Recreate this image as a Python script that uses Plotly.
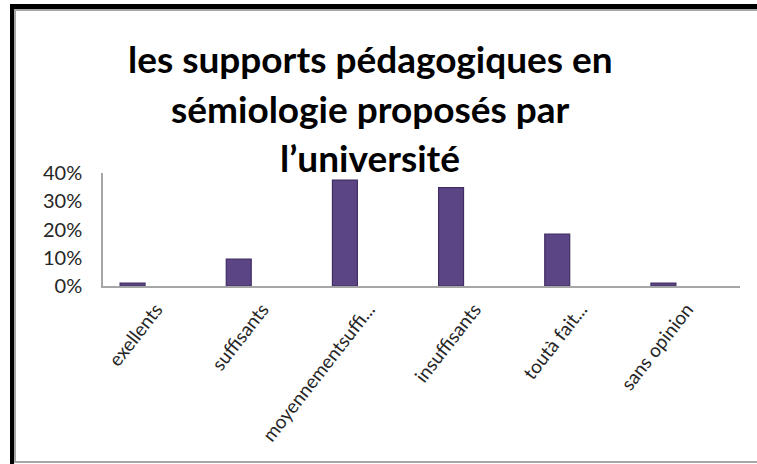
import plotly.graph_objects as go

categories = ["exellents", "suffisants", "moyennementsuffi...", "insuffisants", "toutà fait...", "sans opinion"]
values = [0.01, 0.095, 0.375, 0.348, 0.184, 0.01]
y_ticks = [0, 0.1, 0.2, 0.3, 0.4]
y_tick_labels = ["0%", "10%", "20%", "30%", "40%"]
title_lines = ["les supports pédagogiques en", "sémiologie proposés par", "l’université"]

W, H = 757, 464
L, R, T, B = 103, 17, 173, 178
pw, ph = W - L - R, H - T - B

def px(x):
    return (x - L) / pw

def py(y):
    return (H - B - y) / ph

fig = go.Figure()
fig.add_trace(go.Bar(
    x=categories, y=values,
    width=0.235, offset=-0.339,
    marker=dict(color="#5c4585", line=dict(color="#3f2d63", width=1.2)),
    hoverinfo="skip",
))

shapes = [
    dict(type="rect", xref="paper", yref="paper", x0=px(10), x1=px(760), y0=py(4), y1=py(9),
         fillcolor="black", line=dict(width=0), layer="above"),
    dict(type="rect", xref="paper", yref="paper", x0=px(10), x1=px(14), y0=py(4), y1=py(470),
         fillcolor="black", line=dict(width=0), layer="above"),
    dict(type="rect", xref="paper", yref="paper", x0=px(14), x1=px(760), y0=py(9), y1=py(11),
         fillcolor="#a6a6a6", line=dict(width=0), layer="above"),
    dict(type="rect", xref="paper", yref="paper", x0=px(14), x1=px(16), y0=py(9), y1=py(463),
         fillcolor="#a6a6a6", line=dict(width=0), layer="above"),
    dict(type="rect", xref="paper", yref="paper", x0=px(14), x1=px(760), y0=py(461), y1=py(463),
         fillcolor="#a6a6a6", line=dict(width=0), layer="above"),
]

annotations = []
for line, yc in zip(title_lines, [58, 108, 157]):
    annotations.append(dict(
        text=line, xref="paper", yref="paper", x=px(370), y=py(yc),
        xanchor="center", yanchor="middle", showarrow=False,
        font=dict(family="Lato", size=37, color="black", weight="bold"),
    ))

fig.update_layout(
    width=W, height=H,
    margin=dict(l=L, r=R, t=T, b=B, pad=0, autoexpand=False),
    paper_bgcolor="white", plot_bgcolor="white",
    showlegend=False,
    shapes=shapes, annotations=annotations,
    font=dict(family="Lato", color="#262626"),
    xaxis=dict(
        type="category", range=[-0.5, 5.5], automargin=False,
        showline=True, linecolor="#a6a6a6", linewidth=1.5,
        showgrid=False, ticks="outside", ticklen=3, tickcolor="rgba(0,0,0,0)",
        tickangle=-52,
        tickfont=dict(size=19, color="#262626"),
        zeroline=False, fixedrange=True,
    ),
    yaxis=dict(
        range=[0, 0.4], tickvals=y_ticks, ticktext=y_tick_labels, automargin=False,
        showline=True, linecolor="#a6a6a6", linewidth=1.5,
        showgrid=False, ticks="outside", ticklen=15, tickcolor="rgba(0,0,0,0)",
        tickfont=dict(size=20, color="#262626"),
        zeroline=False, fixedrange=True,
    ),
)

fig.write_html("out.html", config={"displayModeBar": False},
               post_script="document.body.style.margin='0';")
